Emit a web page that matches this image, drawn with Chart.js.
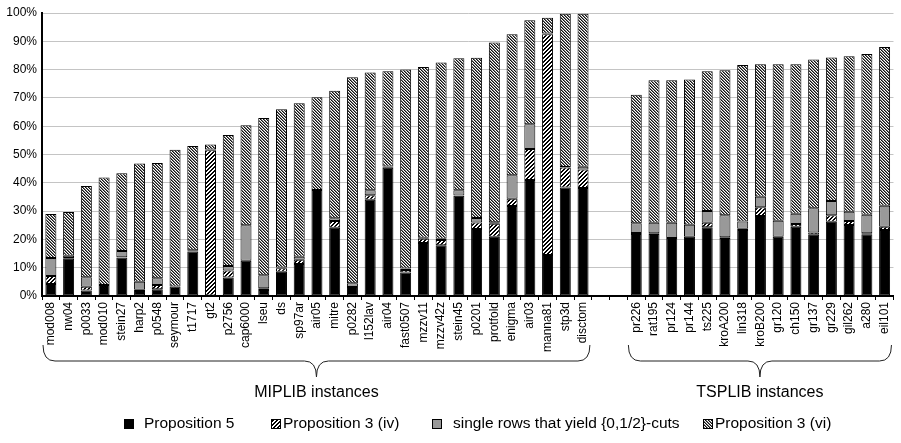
<!DOCTYPE html>
<html>
<head>
<meta charset="utf-8">
<script src="https://cdn.jsdelivr.net/npm/chart.js@4"></script>
<style>
  body { margin: 0; background: #fff; }
  #chart { display: block; }
</style>
</head>
<body>
<canvas id="chart" width="901" height="443"></canvas>
<script>
// instance names, two empty slots make the gap between the groups
const categories = [
  'mod008', 'nw04', 'p0033', 'mod010', 'stein27', 'harp2', 'p0548', 'seymour',
  't1717', 'gt2', 'p2756', 'cap6000', 'lseu', 'ds', 'sp97ar', 'air05', 'mitre',
  'p0282', 'l152lav', 'air04', 'fast0507', 'mzzv11', 'mzzv42z', 'stein45', 'p0201',
  'protfold', 'enigma', 'air03', 'manna81', 'stp3d', 'disctom',
  '', '',
  'pr226', 'rat195', 'pr124', 'pr144', 'ts225', 'kroA200', 'lin318', 'kroB200',
  'gr120', 'ch150', 'gr137', 'gr229', 'gil262', 'a280', 'eil101'
];

const prop5 = [
  4.2, 13.2, 1.9, 3.9, 13.6, 1.8, 2.4, 3.4, 15.7, 0, 6.5, 12.5, 2.1, 8.6, 11.3, 37.5,
  24.1, 3.2, 34.0, 45.3, 8.3, 18.7, 17.9, 35.4, 23.7, 20.9, 31.8, 41.0, 14.5, 38.3, 38.2,
  null, null,
  21.9, 21.9, 20.5, 20.9, 24.3, 20.5, 23.3, 28.3, 20.9, 24.5, 21.6, 26.2, 25.1, 21.8, 23.3
];
const prop3iv = [
  2.9, 0.2, 1.4, 0, 0.1, 0.4, 1.5, 0, 0.5, 51.5, 2.5, 0, 0.6, 1.2, 1.5, 0,
  2.4, 0, 1.6, 0.3, 0.9, 1.5, 1.9, 0.1, 2.3, 4.6, 2.6, 10.9, 78.0, 7.1, 6.5,
  null, null,
  0.4, 0.3, 0, 0, 1.6, 0.3, 0.5, 3.1, 0, 0.9, 0.8, 2.3, 1.4, 0.4, 1.2
];
const singleRows = [
  6.3, 0.8, 3.3, 0, 2.2, 2.8, 2.4, 0, 0, 0.3, 1.6, 12.5, 4.6, 0.3, 1.1, 0,
  1.0, 1.3, 1.8, 0.2, 0.5, 0.4, 0.4, 1.9, 1.6, 0.6, 8.3, 8.8, 0.3, 0.2, 1.0,
  null, null,
  3.4, 3.7, 5.4, 4.3, 4.1, 7.7, 2.5, 3.7, 5.7, 3.7, 8.6, 5.1, 3.3, 6.5, 7.4
];
const prop3vi = [
  15.6, 15.5, 32.3, 38.0, 27.5, 41.8, 40.7, 48.3, 36.8, 1.7, 46.3, 35.3, 55.6, 55.9, 54.2, 32.7,
  45.0, 72.8, 41.6, 33.6, 70.3, 60.3, 62.3, 46.6, 56.6, 63.5, 49.8, 36.7, 5.5, 54.1, 54.0,
  null, null,
  45.4, 50.3, 50.3, 51.3, 49.4, 51.3, 55.3, 46.8, 55.3, 52.8, 52.6, 50.7, 54.9, 56.8, 56.1
];

const seriesNames = ['Proposition 5', 'Proposition 3 (iv)', 'single rows that yield {0,1/2}-cuts', 'Proposition 3 (vi)'];
const groups = [
  { name: 'MIPLIB instances', from: 0, to: 30 },
  { name: 'TSPLIB instances', from: 33, to: 47 }
];

const FONT = '"Liberation Sans", Arial, sans-serif';

// small pixel tiles for the hatched fills
function makeHatch(size, colorAt) {
  const c = document.createElement('canvas');
  c.width = size;
  c.height = size;
  const cx = c.getContext('2d');
  for (let x = 0; x < size; x++) {
    for (let y = 0; y < size; y++) {
      cx.fillStyle = colorAt(x, y);
      cx.fillRect(x, y, 1, 1);
    }
  }
  return cx.createPattern(c, 'repeat');
}
const hatchIv = makeHatch(4, (x, y) => ((x + y) % 4 < 2 ? '#000' : '#fff'));
const hatchVi = makeHatch(3, (x, y) => ['#111', '#7a7a7a', '#fff'][(x - y + 3) % 3]);
const fills = ['#000', hatchIv, '#999', hatchVi];

function dataset(i, values) {
  return {
    label: seriesNames[i],
    data: values,
    backgroundColor: fills[i],
    borderColor: '#000',
    borderWidth: 1,
    borderSkipped: false,
    categoryPercentage: 1,
    barPercentage: 0.62
  };
}

const extras = {
  id: 'extras',
  afterDraw(chart) {
    const ctx = chart.ctx;
    const xs = chart.scales.x;
    const half = (xs.getPixelForValue(1) - xs.getPixelForValue(0)) / 2;
    ctx.save();
    // braces + group names
    for (const g of groups) {
      const x1 = xs.getPixelForValue(g.from) - half + 1;
      const x2 = xs.getPixelForValue(g.to) + half - 2;
      const xm = (x1 + x2) / 2;
      const y0 = 345, y1 = 361, y2 = 377, r = 12;
      ctx.beginPath();
      ctx.moveTo(x1, y0);
      ctx.quadraticCurveTo(x1, y1, x1 + r, y1);
      ctx.lineTo(xm - r, y1);
      ctx.quadraticCurveTo(xm, y1, xm, y2);
      ctx.quadraticCurveTo(xm, y1, xm + r, y1);
      ctx.lineTo(x2 - r, y1);
      ctx.quadraticCurveTo(x2, y1, x2, y0);
      ctx.strokeStyle = '#222';
      ctx.lineWidth = 1;
      ctx.stroke();
      ctx.fillStyle = '#000';
      ctx.font = '16px ' + FONT;
      ctx.textAlign = 'center';
      ctx.textBaseline = 'middle';
      ctx.fillText(g.name, xm, 393);
    }
    // legend
    const boxX = [124, 271, 432, 703];
    const textX = [144, 283, 453, 715];
    ctx.font = '15.5px ' + FONT;
    ctx.textAlign = 'left';
    ctx.textBaseline = 'middle';
    chart.data.datasets.forEach((ds, i) => {
      ctx.fillStyle = ds.backgroundColor;
      ctx.fillRect(boxX[i], 419, 10, 10);
      ctx.strokeStyle = '#000';
      ctx.strokeRect(boxX[i] + 0.5, 419.5, 9, 9);
      ctx.fillStyle = '#000';
      ctx.fillText(ds.label, textX[i], 424);
    });
    ctx.restore();
  }
};

new Chart(document.getElementById('chart'), {
  type: 'bar',
  data: {
    labels: categories,
    datasets: [dataset(0, prop5), dataset(1, prop3iv), dataset(2, singleRows), dataset(3, prop3vi)]
  },
  options: {
    responsive: false,
    animation: false,
    layout: { padding: { top: 13, right: 0, left: 0, bottom: 0 } },
    plugins: { legend: { display: false }, tooltip: { enabled: false } },
    scales: {
      x: {
        stacked: true,
        grid: { drawOnChartArea: false, offset: true, tickLength: 4, color: '#000' },
        border: { color: '#000', width: 2 },
        ticks: {
          autoSkip: false, maxRotation: 90, minRotation: 90, padding: 2,
          color: '#000', font: { size: 12, family: FONT }
        },
        afterFit: (s) => { s.height = 147; }
      },
      y: {
        stacked: true,
        min: 0,
        max: 100,
        grid: { color: '#c4c4c4', drawTicks: false },
        border: { color: '#000', width: 2 },
        ticks: {
          stepSize: 10, padding: 5, color: '#000',
          font: { size: 12, family: FONT },
          callback: (v) => v + '%'
        },
        afterFit: (s) => { s.width = 42; }
      }
    }
  },
  plugins: [extras]
});
</script>
</body>
</html>
